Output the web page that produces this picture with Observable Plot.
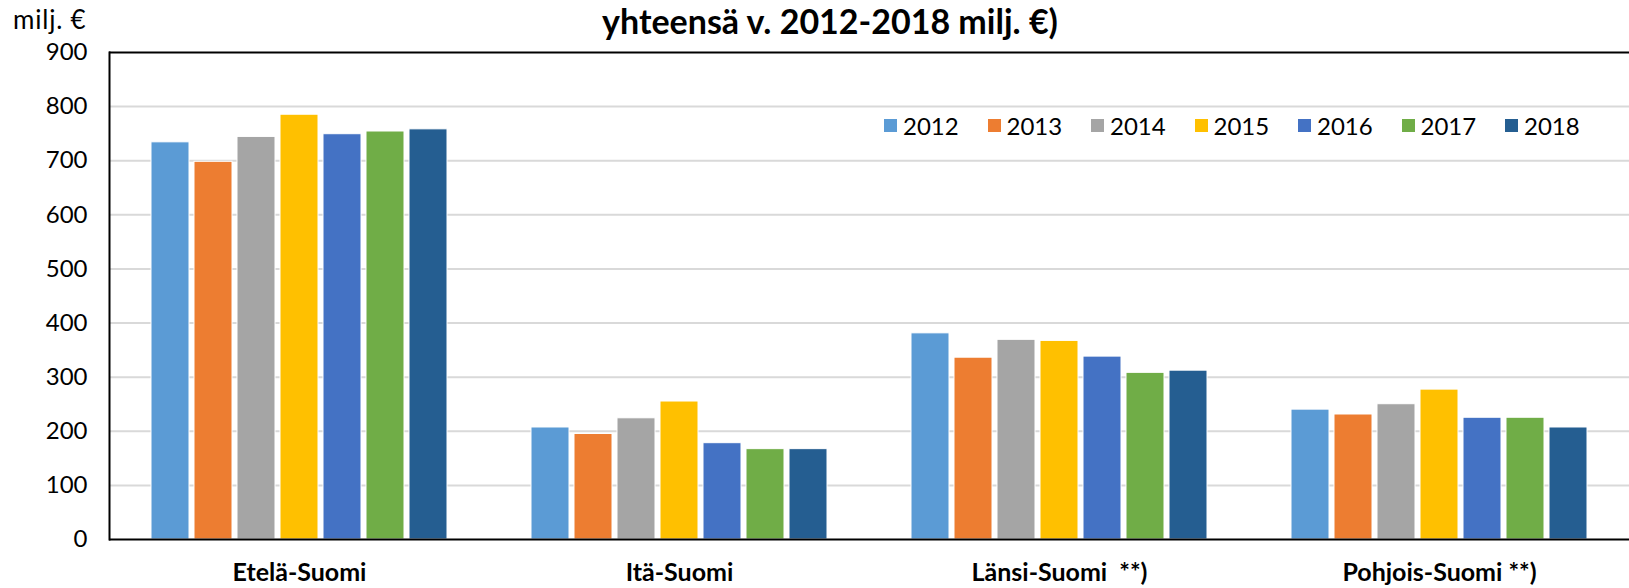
<!DOCTYPE html>
<html><head><meta charset="utf-8">
<script src="https://cdn.jsdelivr.net/npm/d3@7"></script>
<script src="https://cdn.jsdelivr.net/npm/@observablehq/plot@0.6"></script>
<style>
body{margin:0;background:#fff;font-family:Lato,sans-serif;}
#wrap{position:relative;width:1629px;height:588px;overflow:hidden;background:#fff}
#title{position:absolute;left:0;width:1660px;top:0px;text-align:center;font-weight:bold;font-size:34px;line-height:42px;color:#000;letter-spacing:0px}
#unit{position:absolute;left:13px;top:2px;font-size:26px;line-height:34px;color:#000;letter-spacing:0.8px}
#legend{position:absolute;left:884px;top:110px;height:30px;display:flex}
.item{width:103.5px;display:flex;align-items:center;font-size:24px;color:#000}
.sw{width:13px;height:13px;margin-right:6px}
</style></head>
<body>
<div id="wrap">
  <div id="chart"></div>
  <div id="title">yhteensä v. 2012-2018 milj. €)</div>
  <div id="unit">milj. €</div>
  <div id="legend"></div>
</div>
<script>
const regions = ["Etelä-Suomi", "Itä-Suomi", "Länsi-Suomi\u00a0 **)", "Pohjois-Suomi **)"];
const years = ["2012", "2013", "2014", "2015", "2016", "2017", "2018"];
const v2012 = [734, 207, 381, 240];
const v2013 = [698, 195, 336, 231];
const v2014 = [744, 224, 369, 250];
const v2015 = [785, 255, 367, 277];
const v2016 = [749, 178, 338, 225];
const v2017 = [754, 167, 308, 225];
const v2018 = [758, 167, 312, 207];
const yTicks = [0, 100, 200, 300, 400, 500, 600, 700, 800, 900];
const colors = ["#5B9BD5", "#ED7D31", "#A5A5A5", "#FFC000", "#4472C4", "#70AD47", "#255E91"];

const series = [v2012, v2013, v2014, v2015, v2016, v2017, v2018];
const data = [];
regions.forEach((r, i) => years.forEach((y, j) => data.push({region: r, year: y, value: series[j][i]})));

const chart = Plot.plot({
  width: 1629, height: 588,
  marginTop: 52, marginBottom: 49, marginLeft: 109, marginRight: 0,
  style: {fontFamily: "Lato, sans-serif", fontSize: "24px", color: "#000", background: "white"},
  y: {domain: [0, 900]},
  fx: {domain: regions, padding: 0},
  x: {domain: years, paddingInner: 0.12, paddingOuter: 0.965},
  color: {domain: years, range: colors},
  marks: [
    Plot.gridY(yTicks.slice(1, -1), {stroke: "#d9d9d9", strokeOpacity: 1, strokeWidth: 2}),
    Plot.barY(data, {fx: "region", x: "year", y: "value", fill: "year", stroke: "white", strokeWidth: 1}),
    Plot.ruleY([0, 900], {stroke: "black", strokeWidth: 2}),
    Plot.frame({anchor: "left", facet: "super", stroke: "black", strokeWidth: 2}),
    Plot.axisY({ticks: yTicks, tickSize: 0, tickPadding: 22, label: null, fontSize: 24}),
    Plot.axisX({ticks: [], label: null}),
    Plot.axisFx({anchor: "bottom", tickSize: 0, tickPadding: 24, label: null, fontWeight: "bold", fontSize: 25})
  ]
});
document.getElementById("chart").appendChild(chart);

const color = chart.scale("color");
const leg = d3.select("#legend");
years.forEach(y => {
  const it = leg.append("div").attr("class", "item");
  it.append("div").attr("class", "sw").style("background", d3.scaleOrdinal(color.domain, color.range)(y));
  it.append("span").text(y);
});
</script>
</body></html>
